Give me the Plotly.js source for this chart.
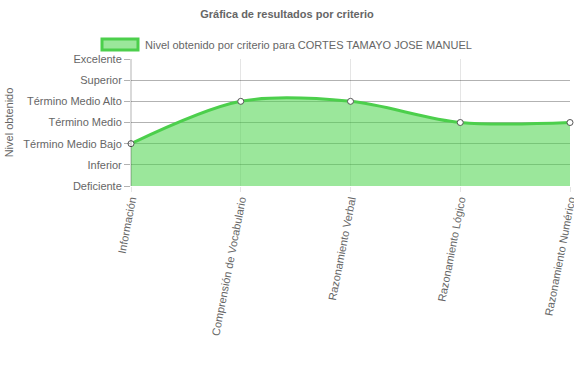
<!DOCTYPE html>
<html>
<head>
<meta charset="utf-8">
<script src="https://cdn.plot.ly/plotly-3.0.1.min.js"></script>
<style>html,body{margin:0;padding:0;background:#fff;}#chart{width:574px;height:368px;}</style>
</head>
<body>
<div id="chart"></div>
<script>
const criterios = ['Información', 'Comprensión de Vocabulario', 'Razonamiento Verbal', 'Razonamiento Lógico', 'Razonamiento Numérico'];
const niveles = ['Deficiente', 'Inferior', 'Término Medio Bajo', 'Término Medio', 'Término Medio Alto', 'Superior', 'Excelente'];
const valores = [2, 4, 4, 3, 3];
const serieNombre = 'Nivel obtenido por criterio para CORTES TAMAYO JOSE MANUEL';
const tituloGrafica = 'Gráfica de resultados por criterio';
const tituloEjeY = 'Nivel obtenido';

const W = 574, H = 368;
const L = 131, R = 570, T = 59, B = 186;
const pw = R - L, ph = B - T;
const px = v => (v - L) / pw;
const py = v => (B - v) / ph;

const font = {family: '"Liberation Sans", Arial, Helvetica, sans-serif', size: 11, color: '#666'};

const trace = {
  x: criterios,
  y: valores,
  type: 'scatter',
  mode: 'lines+markers',
  name: serieNombre,
  line: {shape: 'spline', smoothing: 0.9, color: '#4ccf4c', width: 3},
  fill: 'tozeroy',
  fillcolor: 'rgba(76,212,76,0.56)',
  marker: {size: 6, color: '#fff', line: {color: '#555', width: 1}},
  cliponaxis: false,
  showlegend: false,
  hoverinfo: 'x+y'
};

const layout = {
  width: W, height: H,
  margin: {l: L, r: W - R, t: T, b: H - B, pad: 0},
  paper_bgcolor: '#fff', plot_bgcolor: '#fff',
  font: font,
  title: {text: '<b>' + tituloGrafica + '</b>', x: 0.5, xref: 'container', xanchor: 'center',
          y: 1 - 14 / H, yref: 'container', yanchor: 'middle',
          font: {family: font.family, size: 11, color: '#666'}},
  xaxis: {
    type: 'category', range: [0, criterios.length - 1],
    showgrid: true, gridcolor: 'rgba(0,0,0,0.1)', gridwidth: 1,
    zeroline: false, showline: false,
    ticks: 'outside', ticklen: 5, tickcolor: 'rgba(0,0,0,0.1)',
    ticklabelstandoff: -3,
    tickangle: -79, tickfont: font, automargin: false, fixedrange: true
  },
  yaxis: {
    range: [0, niveles.length - 1],
    tickvals: niveles.map((n, i) => i), ticktext: niveles,
    showgrid: true, gridcolor: 'rgba(0,0,0,0.3)', gridwidth: 1,
    zeroline: false, showline: false,
    ticks: 'outside', ticklen: 6, tickcolor: 'rgba(0,0,0,0.3)',
    tickfont: font, automargin: false, fixedrange: true,
    title: {text: tituloEjeY, font: font, standoff: 7}
  },
  shapes: [
    {type: 'line', xref: 'paper', yref: 'paper', x0: 0, x1: 0, y0: 0, y1: 1,
     line: {color: 'rgba(0,0,0,0.3)', width: 1}},
    {type: 'rect', xref: 'paper', yref: 'paper',
     x0: px(102), x1: px(138), y0: py(50), y1: py(39),
     fillcolor: 'rgba(76,212,76,0.56)', line: {color: '#4ccf4c', width: 3}}
  ],
  annotations: [
    {text: serieNombre, xref: 'paper', yref: 'paper', x: px(143), y: py(44.5),
     xanchor: 'left', yanchor: 'middle', showarrow: false, font: font}
  ]
};

Plotly.newPlot('chart', [trace], layout, {displayModeBar: false, staticPlot: true});
</script>
</body>
</html>
